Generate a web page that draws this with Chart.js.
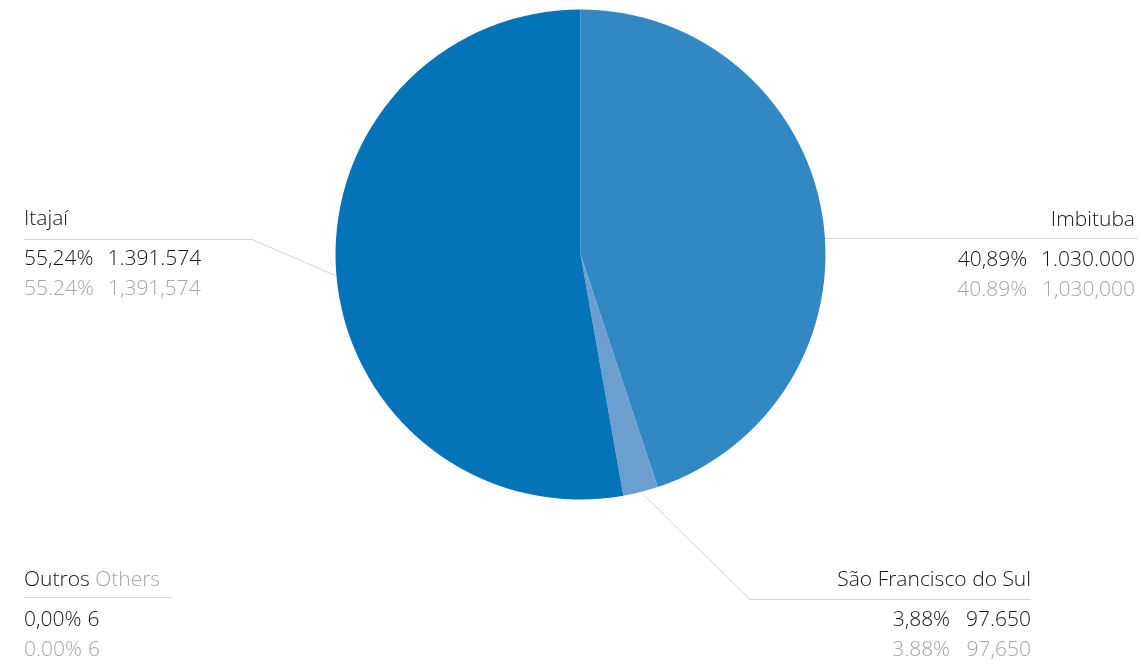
<!DOCTYPE html>
<html>
<head>
<meta charset="utf-8">
<script src="https://cdn.jsdelivr.net/npm/chart.js@4"></script>
<style>
  html, body { margin: 0; padding: 0; background: #fff; }
  #wrap { width: 1141px; height: 667px; }
</style>
</head>
<body>
<div id="wrap"><canvas id="ports-chart" width="1141" height="667"></canvas></div>
<script>
// ports, clockwise from the top
const ports = ["Imbituba", "São Francisco do Sul", "Outros", "Itajaí"];
const portsEn = ["", "", "Others", ""];
// slice shares as they are drawn in the picture
const sliceShares = [44.9, 2.3, 0, 52.8];
// printed values
const shareBr = ["40,89%", "3,88%", "0,00%", "55,24%"];
const shareEn = ["40.89%", "3.88%", "0.00%", "55.24%"];
const volumeBr = ["1.030.000", "97.650", "6", "1.391.574"];
const volumeEn = ["1,030,000", "97,650", "6", "1,391,574"];
const sliceColors = ["#3188c2", "#6a9fd0", "#5a8fc8", "#0473b7"];

const FONT = '300 21px "Open Sans", "Lato", sans-serif';
const DARK = "#151515";
const GREY = "#a6a6a6";
const RULE = "#d4d4d4";

// label block for each slice: side, text x, title baseline, rule y, elbow x
const labelSpots = [
  { align: "right", x: 1135, y: 226, rule: 238, from: "edge" },
  { align: "right", x: 1031, y: 586, rule: 599, elbow: 750, from: "mid", gap: 16 },
  { align: "left", x: 24, y: 586, rule: 597, ruleEnd: 172, from: "none" },
  { align: "left", x: 24, y: 225, rule: 239, elbow: 252, from: "mid" },
];

const labelPlugin = {
  id: "sideLabels",
  afterDraw(chart) {
    const ctx = chart.ctx;
    const arcs = chart.getDatasetMeta(0).data;
    ctx.save();
    ctx.font = FONT;
    ctx.textBaseline = "alphabetic";
    labelSpots.forEach((s, i) => {
      const arc = arcs[i];
      const cx = arc.x, cy = arc.y, r = arc.outerRadius;
      ctx.strokeStyle = RULE;
      ctx.lineWidth = 1;
      ctx.beginPath();
      if (s.from === "edge") {
        const ex = cx + Math.sqrt(r * r - (s.rule - cy) * (s.rule - cy));
        ctx.moveTo(ex, s.rule + 0.5);
        ctx.lineTo(s.x + 2, s.rule + 0.5);
      } else if (s.from === "mid") {
        const mid = (arc.startAngle + arc.endAngle) / 2;
        const px = cx + Math.cos(mid) * r, py = cy + Math.sin(mid) * r;
        ctx.moveTo(px, py);
        ctx.lineTo(s.elbow, s.rule + 0.5);
        ctx.lineTo(s.x, s.rule + 0.5);
      } else {
        ctx.moveTo(s.x, s.rule + 0.5);
        ctx.lineTo(s.ruleEnd, s.rule + 0.5);
      }
      ctx.stroke();

      // title
      ctx.textAlign = s.align;
      if (portsEn[i]) {
        ctx.textAlign = "left";
        ctx.fillStyle = DARK;
        ctx.fillText(ports[i], s.x, s.y);
        const w = ctx.measureText(ports[i] + " ").width;
        ctx.fillStyle = GREY;
        ctx.fillText(portsEn[i], s.x + w, s.y);
      } else {
        ctx.fillStyle = DARK;
        ctx.fillText(ports[i], s.x, s.y);
      }

      // value rows
      const gap = s.gap || 14;
      const rows = [[shareBr[i], volumeBr[i], DARK, s.y + 40], [shareEn[i], volumeEn[i], GREY, s.y + 70]];
      rows.forEach(([p, v, col, y]) => {
        ctx.fillStyle = col;
        if (s.align === "left") {
          ctx.textAlign = "left";
          const sep = volumeBr[i].length > 2 ? gap : 6;
          ctx.fillText(p, s.x, y);
          ctx.fillText(v, s.x + ctx.measureText(p).width + sep, y);
        } else {
          ctx.textAlign = "right";
          ctx.fillText(v, s.x, y);
          const vw = ctx.measureText(volumeBr[i]).width;
          ctx.fillText(p, s.x - vw - gap, y);
        }
      });
    });
    ctx.restore();
  },
};

const config = {
  type: "pie",
  data: {
    labels: ports,
    datasets: [
      {
        data: sliceShares,
        backgroundColor: sliceColors,
        borderWidth: 0,
      },
    ],
  },
  options: {
    responsive: false,
    animation: false,
    layout: {
      padding: { top: 9.5, bottom: 167.5, left: 335.5, right: 315.5 },
    },
    plugins: {
      legend: { display: false },
      tooltip: { enabled: false },
    },
  },
  plugins: [labelPlugin],
};

const ctx = document.getElementById("ports-chart").getContext("2d");
const portsChart = new Chart(ctx, config);
</script>
</body>
</html>
